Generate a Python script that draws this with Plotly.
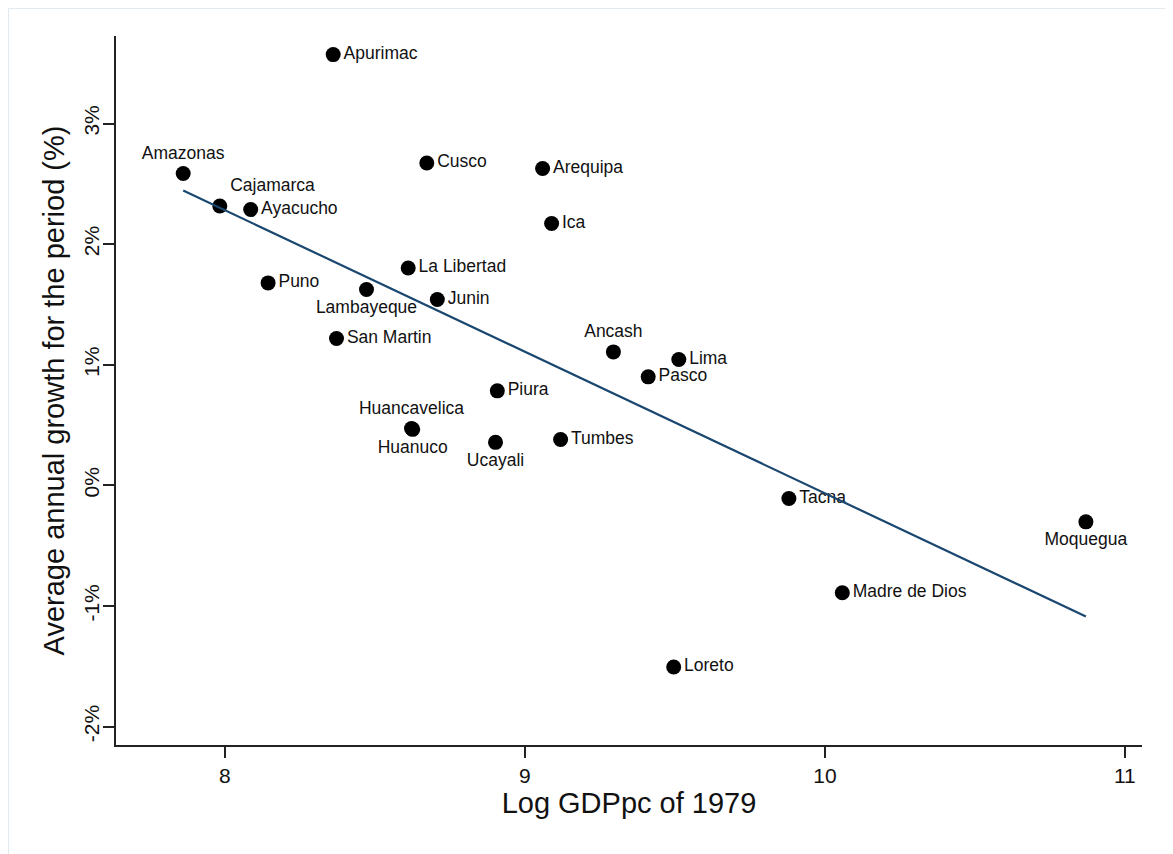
import numpy as np
import plotly.graph_objects as go

regions = ["Apurimac", "Amazonas", "Cajamarca", "Ayacucho", "Cusco", "Arequipa", "Ica",
           "La Libertad", "Puno", "Lambayeque", "Junin", "San Martin", "Ancash", "Lima",
           "Pasco", "Piura", "Huancavelica", "Huanuco", "Ucayali", "Tumbes", "Tacna",
           "Moquegua", "Madre de Dios", "Loreto"]
log_gdppc_1979 = [8.361, 7.861, 7.983, 8.086, 8.673, 9.059, 9.089,
                  8.611, 8.144, 8.472, 8.708, 8.372, 9.295, 9.513,
                  9.411, 8.908, 8.622, 8.626, 8.902, 9.119, 9.880,
                  10.870, 10.058, 9.496]
avg_growth_pct = [3.572, 2.586, 2.317, 2.287, 2.673, 2.627, 2.171,
                  1.803, 1.679, 1.624, 1.541, 1.218, 1.107, 1.044,
                  0.900, 0.784, 0.472, 0.465, 0.357, 0.381, -0.108,
                  -0.302, -0.890, -1.505]
label_pos = ["middle right", "top center", "top right", "middle right", "middle right",
             "middle right", "middle right", "middle right", "middle right", "bottom center",
             "middle right", "middle right", "top center", "middle right", "middle right",
             "middle right", "top center", "bottom center", "bottom center", "middle right",
             "middle right", "bottom center", "middle right", "middle right"]

x_tick_vals = [8, 9, 10, 11]
x_tick_text = ["8", "9", "10", "11"]
y_tick_vals = [-2, -1, 0, 1, 2, 3]
y_tick_text = ["-2%", "-1%", "0%", "1%", "2%", "3%"]

# linear fit
slope, intercept = np.polyfit(log_gdppc_1979, avg_growth_pct, 1)
fit_x = [min(log_gdppc_1979), max(log_gdppc_1979)]
fit_y = [intercept + slope * v for v in fit_x]

FONT = "Liberation Sans, Arial, sans-serif"

fig = go.Figure()
fig.add_trace(go.Scatter(
    x=log_gdppc_1979, y=avg_growth_pct, mode="markers+text",
    text=regions, textposition=label_pos,
    textfont=dict(family=FONT, size=17.5, color="#111111"),
    marker=dict(size=15, color="#000000", line=dict(width=0)),
    showlegend=False, hoverinfo="skip"))
fig.add_trace(go.Scatter(
    x=fit_x, y=fit_y, mode="lines",
    line=dict(color="#1a476f", width=2.2),
    showlegend=False, hoverinfo="skip"))

axis_common = dict(
    showgrid=False, zeroline=False, showline=True, linecolor="#222222", linewidth=1.8,
    ticks="outside", ticklen=11, tickwidth=1.8, tickcolor="#222222",
    tickfont=dict(family=FONT, size=21, color="#111111"),
    automargin=False, mirror=False)

fig.update_layout(
    template="none",
    width=1165, height=846,
    margin=dict(l=108, r=31, t=28, b=109, pad=0),
    paper_bgcolor="white", plot_bgcolor="white",
    font=dict(family=FONT, color="#111111"),
    xaxis=dict(range=[7.637, 11.057], tickvals=x_tick_vals, ticktext=x_tick_text,
               title=dict(text="Log GDPpc of 1979", font=dict(family=FONT, size=29, color="#111111"),
                          standoff=5),
               **axis_common),
    yaxis=dict(range=[-2.152, 3.726], tickvals=y_tick_vals, ticktext=y_tick_text,
               tickangle=-90, ticklabelstandoff=-4,
               title=dict(text="Average annual growth for the period (%)",
                          font=dict(family=FONT, size=29, color="#111111"), standoff=7),
               **axis_common),
    shapes=[
        dict(type="line", xref="paper", yref="paper", x0=-0.1048, x1=1.04, y0=1.0388, y1=1.0388,
             line=dict(color="#e3eaef", width=1.2)),
        dict(type="line", xref="paper", yref="paper", x0=-0.1048, x1=-0.1048, y0=1.0388, y1=-0.17,
             line=dict(color="#e3eaef", width=1.2)),
    ],
)

fig.write_html("out.html")
